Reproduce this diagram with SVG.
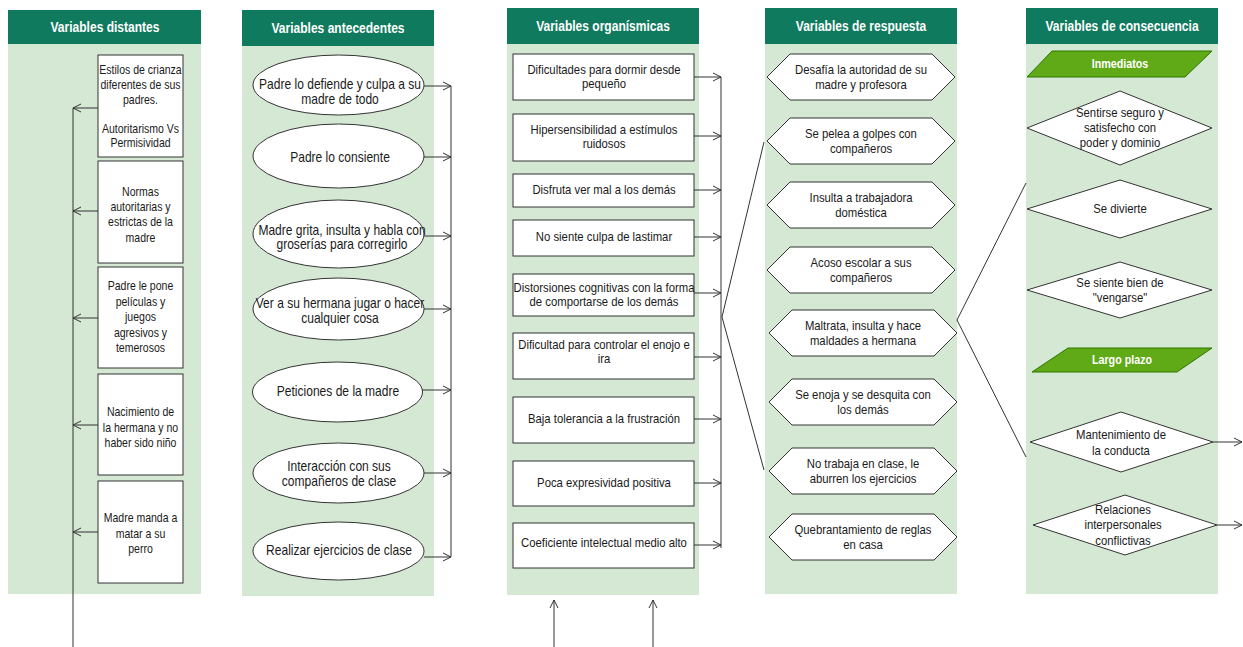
<svg xmlns="http://www.w3.org/2000/svg" width="1243" height="647" viewBox="0 0 1243 647">
  <defs>
    <marker id="open" viewBox="0 0 10 10" refX="9" refY="5" markerWidth="10" markerHeight="10" markerUnits="userSpaceOnUse" orient="auto">
      <path d="M1,1 L9,5 L1,9" fill="none" stroke="#333" stroke-width="1"/>
    </marker>
    <style>
      text { font-family: "Liberation Sans", Arial, sans-serif; fill: #1a1a1a; text-anchor: middle; }
      .lane { fill: #d5e8d4; stroke: none; }
      .head { fill: #0f7a5d; stroke: none; }
      .htxt { font-size: 14px; font-weight: bold; fill: #ffffff; }
      .node { fill: #ffffff; stroke: #333333; stroke-width: 1; }
      .tag { fill: #60a917; stroke: #2d7600; stroke-width: 1; }
      .tagtxt { font-size: 12.5px; font-weight: bold; fill: #ffffff; }
      .f13 { font-size: 13px; }
      .f14 { font-size: 14px; }
      .wire { fill: none; stroke: #333333; stroke-width: 1; }
      .arr { fill: none; stroke: #333333; stroke-width: 1; marker-end: url(#open); }
    </style>
  </defs>

  <rect width="1243" height="647" fill="#ffffff"/>

  <!-- swimlanes -->
  <g id="lane-distantes">
    <rect class="lane" x="8" y="10" width="193" height="584"/>
    <rect class="head" x="8" y="10" width="193" height="34"/>
    <text class="htxt" transform="translate(105,0) scale(0.86,1)"><tspan x="0" y="32">Variables distantes</tspan></text>
  </g>
  <g id="lane-antecedentes">
    <rect class="lane" x="242" y="10" width="192" height="586"/>
    <rect class="head" x="242" y="10" width="192" height="36"/>
    <text class="htxt" transform="translate(338,0) scale(0.86,1)"><tspan x="0" y="33">Variables antecedentes</tspan></text>
  </g>
  <g id="lane-organismicas">
    <rect class="lane" x="507" y="8" width="192" height="587"/>
    <rect class="head" x="507" y="8" width="192" height="36"/>
    <text class="htxt" transform="translate(603,0) scale(0.86,1)"><tspan x="0" y="31">Variables organísmicas</tspan></text>
  </g>
  <g id="lane-respuesta">
    <rect class="lane" x="765" y="8" width="192" height="586"/>
    <rect class="head" x="765" y="8" width="192" height="36"/>
    <text class="htxt" transform="translate(861,0) scale(0.86,1)"><tspan x="0" y="31">Variables de respuesta</tspan></text>
  </g>
  <g id="lane-consecuencia">
    <rect class="lane" x="1026" y="8" width="192" height="586"/>
    <rect class="head" x="1026" y="8" width="192" height="36"/>
    <text class="htxt" transform="translate(1122,0) scale(0.86,1)"><tspan x="0" y="31">Variables de consecuencia</tspan></text>
  </g>

  <!-- distant variables -->
  <g id="d1">
    <rect class="node" x="98" y="55" width="85" height="102"/>
    <text class="f13" transform="translate(140.5,0) scale(0.81,1)"><tspan x="0" y="74.5">Estilos de crianza</tspan><tspan x="0" y="89">diferentes de sus</tspan><tspan x="0" y="104">padres.</tspan><tspan x="0" y="133">Autoritarismo Vs</tspan><tspan x="0" y="147.5">Permisividad</tspan></text>
  </g>
  <g id="d2">
    <rect class="node" x="98" y="161" width="85" height="102"/>
    <text class="f13" transform="translate(140.5,0) scale(0.81,1)"><tspan x="0" y="196">Normas</tspan><tspan x="0" y="211">autoritarias y</tspan><tspan x="0" y="226.5">estrictas de la</tspan><tspan x="0" y="242">madre</tspan></text>
  </g>
  <g id="d3">
    <rect class="node" x="98" y="267" width="85" height="101"/>
    <text class="f13" transform="translate(140.5,0) scale(0.81,1)"><tspan x="0" y="290.5">Padre le pone</tspan><tspan x="0" y="306">películas y</tspan><tspan x="0" y="321.5">juegos</tspan><tspan x="0" y="337">agresivos y</tspan><tspan x="0" y="352.5">temerosos</tspan></text>
  </g>
  <g id="d4">
    <rect class="node" x="98" y="374" width="85" height="101"/>
    <text class="f13" transform="translate(140.5,0) scale(0.81,1)"><tspan x="0" y="416.5">Nacimiento de</tspan><tspan x="0" y="432">la hermana y no</tspan><tspan x="0" y="447.5">haber sido niño</tspan></text>
  </g>
  <g id="d5">
    <rect class="node" x="98" y="481" width="85" height="102"/>
    <text class="f13" transform="translate(140.5,0) scale(0.81,1)"><tspan x="0" y="522.5">Madre manda a</tspan><tspan x="0" y="538">matar a su</tspan><tspan x="0" y="553.5">perro</tspan></text>
  </g>

  <!-- antecedent variables -->
  <g id="a1">
    <ellipse class="node" cx="338.5" cy="85" rx="85.5" ry="30"/>
    <text class="f14" transform="translate(340,0) scale(0.86,1)"><tspan x="0" y="89">Padre lo defiende y culpa a su</tspan><tspan x="0" y="104">madre de todo</tspan></text>
  </g>
  <g id="a2">
    <ellipse class="node" cx="338.5" cy="156" rx="85.5" ry="32"/>
    <text class="f14" transform="translate(340,0) scale(0.86,1)"><tspan x="0" y="162">Padre lo consiente</tspan></text>
  </g>
  <g id="a3">
    <ellipse class="node" cx="338.5" cy="234" rx="85.5" ry="34"/>
    <text class="f14" transform="translate(342,0) scale(0.86,1)"><tspan x="0" y="235">Madre grita, insulta y habla con</tspan><tspan x="0" y="249">groserías para corregirlo</tspan></text>
  </g>
  <g id="a4">
    <ellipse class="node" cx="338.5" cy="309" rx="85.5" ry="31"/>
    <text class="f14" transform="translate(340,0) scale(0.86,1)"><tspan x="0" y="308">Ver a su hermana jugar o hacer</tspan><tspan x="0" y="323">cualquier cosa</tspan></text>
  </g>
  <g id="a5">
    <ellipse class="node" cx="337.5" cy="392" rx="85" ry="30"/>
    <text class="f14" transform="translate(338,0) scale(0.86,1)"><tspan x="0" y="396">Peticiones de la madre</tspan></text>
  </g>
  <g id="a6">
    <ellipse class="node" cx="338.5" cy="473" rx="85.5" ry="30"/>
    <text class="f14" transform="translate(339,0) scale(0.86,1)"><tspan x="0" y="471">Interacción con sus</tspan><tspan x="0" y="486">compañeros de clase</tspan></text>
  </g>
  <g id="a7">
    <ellipse class="node" cx="338.5" cy="551" rx="85.5" ry="29"/>
    <text class="f14" transform="translate(339,0) scale(0.86,1)"><tspan x="0" y="555">Realizar ejercicios de clase</tspan></text>
  </g>

  <!-- organismic variables -->
  <g id="o1">
    <rect class="node" x="513" y="54" width="181" height="46"/>
    <text class="f13" transform="translate(604,0) scale(0.87,1)"><tspan x="0" y="74.5">Dificultades para dormir desde</tspan><tspan x="0" y="88.5">pequeño</tspan></text>
  </g>
  <g id="o2">
    <rect class="node" x="513" y="114" width="181" height="47"/>
    <text class="f13" transform="translate(604,0) scale(0.87,1)"><tspan x="0" y="134.5">Hipersensibilidad a estímulos</tspan><tspan x="0" y="148.5">ruidosos</tspan></text>
  </g>
  <g id="o3">
    <rect class="node" x="513" y="174" width="181" height="33"/>
    <text class="f13" transform="translate(604,0) scale(0.87,1)"><tspan x="0" y="194.5">Disfruta ver mal a los demás</tspan></text>
  </g>
  <g id="o4">
    <rect class="node" x="513" y="220" width="181" height="36"/>
    <text class="f13" transform="translate(604,0) scale(0.87,1)"><tspan x="0" y="241.5">No siente culpa de lastimar</tspan></text>
  </g>
  <g id="o5">
    <rect class="node" x="513" y="274" width="181" height="42"/>
    <text class="f13" transform="translate(604,0) scale(0.87,1)"><tspan x="0" y="292.5">Distorsiones cognitivas con la forma</tspan><tspan x="0" y="306.5">de comportarse de los demás</tspan></text>
  </g>
  <g id="o6">
    <rect class="node" x="513" y="333" width="181" height="46"/>
    <text class="f13" transform="translate(604,0) scale(0.87,1)"><tspan x="0" y="349.5">Dificultad para controlar el enojo e</tspan><tspan x="0" y="363.5">ira</tspan></text>
  </g>
  <g id="o7">
    <rect class="node" x="513" y="397" width="181" height="46"/>
    <text class="f13" transform="translate(604,0) scale(0.87,1)"><tspan x="0" y="423.5">Baja tolerancia a la frustración</tspan></text>
  </g>
  <g id="o8">
    <rect class="node" x="513" y="461" width="181" height="45"/>
    <text class="f13" transform="translate(604,0) scale(0.87,1)"><tspan x="0" y="487.5">Poca expresividad positiva</tspan></text>
  </g>
  <g id="o9">
    <rect class="node" x="513" y="523" width="181" height="45"/>
    <text class="f13" transform="translate(604,0) scale(0.87,1)"><tspan x="0" y="547.5">Coeficiente intelectual medio alto</tspan></text>
  </g>

  <!-- response variables -->
  <g id="r1">
    <polygon class="node" points="767,77 790,54 932,54 955,77 932,100 790,100"/>
    <text class="f13" transform="translate(861,0) scale(0.87,1)"><tspan x="0" y="74">Desafía la autoridad de su</tspan><tspan x="0" y="89">madre y profesora</tspan></text>
  </g>
  <g id="r2">
    <polygon class="node" points="767,141 790,118 932,118 955,141 932,164 790,164"/>
    <text class="f13" transform="translate(861,0) scale(0.87,1)"><tspan x="0" y="138">Se pelea a golpes con</tspan><tspan x="0" y="153">compañeros</tspan></text>
  </g>
  <g id="r3">
    <polygon class="node" points="767,205 790,182 932,182 955,205 932,228 790,228"/>
    <text class="f13" transform="translate(861,0) scale(0.87,1)"><tspan x="0" y="202">Insulta a trabajadora</tspan><tspan x="0" y="217">doméstica</tspan></text>
  </g>
  <g id="r4">
    <polygon class="node" points="767,270 790,247 932,247 955,270 932,293 790,293"/>
    <text class="f13" transform="translate(861,0) scale(0.87,1)"><tspan x="0" y="267">Acoso escolar a sus</tspan><tspan x="0" y="282">compañeros</tspan></text>
  </g>
  <g id="r5">
    <polygon class="node" points="769,333 792,310 934,310 957,333 934,356 792,356"/>
    <text class="f13" transform="translate(863,0) scale(0.87,1)"><tspan x="0" y="330">Maltrata, insulta y hace</tspan><tspan x="0" y="345">maldades a hermana</tspan></text>
  </g>
  <g id="r6">
    <polygon class="node" points="769,402 792,379 934,379 957,402 934,425 792,425"/>
    <text class="f13" transform="translate(863,0) scale(0.87,1)"><tspan x="0" y="399">Se enoja y se desquita con</tspan><tspan x="0" y="414">los demás</tspan></text>
  </g>
  <g id="r7">
    <polygon class="node" points="769,471 792,448 934,448 957,471 934,494 792,494"/>
    <text class="f13" transform="translate(863,0) scale(0.87,1)"><tspan x="0" y="468">No trabaja en clase, le</tspan><tspan x="0" y="483">aburren los ejercicios</tspan></text>
  </g>
  <g id="r8">
    <polygon class="node" points="769,537 792,514 934,514 957,537 934,560 792,560"/>
    <text class="f13" transform="translate(863,0) scale(0.87,1)"><tspan x="0" y="534">Quebrantamiento de reglas</tspan><tspan x="0" y="549">en casa</tspan></text>
  </g>

  <!-- consequence variables -->
  <g id="c-inmediatos">
    <polygon class="tag" points="1052,51 1212,51 1185,77 1027,77"/>
    <text class="tagtxt" transform="translate(1120,0) scale(0.86,1)"><tspan x="0" y="68.5">Inmediatos</tspan></text>
  </g>
  <g id="c1">
    <polygon class="node" points="1027,128 1120,91 1212,128 1120,165"/>
    <text class="f13" transform="translate(1120,0) scale(0.87,1)"><tspan x="0" y="117.5">Sentirse seguro y</tspan><tspan x="0" y="132.5">satisfecho con</tspan><tspan x="0" y="147.5">poder y dominio</tspan></text>
  </g>
  <g id="c2">
    <polygon class="node" points="1027,209 1120,180 1212,209 1120,238"/>
    <text class="f13" transform="translate(1120,0) scale(0.87,1)"><tspan x="0" y="213.5">Se divierte</tspan></text>
  </g>
  <g id="c3">
    <polygon class="node" points="1027,290 1120,262 1212,290 1120,318"/>
    <text class="f13" transform="translate(1120,0) scale(0.87,1)"><tspan x="0" y="287.5">Se siente bien de</tspan><tspan x="0" y="302.5">"vengarse"</tspan></text>
  </g>
  <g id="c-largo">
    <polygon class="tag" points="1068,348 1212,348 1177,372 1032,372"/>
    <text class="tagtxt" transform="translate(1122,0) scale(0.86,1)"><tspan x="0" y="364.5">Largo plazo</tspan></text>
  </g>
  <g id="c4">
    <polygon class="node" points="1030,442 1121,412 1213,442 1121,472"/>
    <text class="f13" transform="translate(1121,0) scale(0.87,1)"><tspan x="0" y="439.5">Mantenimiento de</tspan><tspan x="0" y="455.5">la conducta</tspan></text>
  </g>
  <g id="c5">
    <polygon class="node" points="1033,525 1125,495 1217,525 1125,555"/>
    <text class="f13" transform="translate(1123,0) scale(0.87,1)"><tspan x="0" y="514.5">Relaciones</tspan><tspan x="0" y="529.5">interpersonales</tspan><tspan x="0" y="545">conflictivas</tspan></text>
  </g>

  <!-- connectors -->
  <g id="connectors">
    <!-- distant variables feed a common trunk -->
    <line class="wire" x1="73" y1="108" x2="73" y2="647" stroke="#555"/>
    <line class="arr" x1="98" y1="108" x2="73" y2="108"/>
    <line class="arr" x1="98" y1="211" x2="73" y2="211"/>
    <line class="arr" x1="98" y1="318" x2="73" y2="318"/>
    <line class="arr" x1="98" y1="425" x2="73" y2="425"/>
    <line class="arr" x1="98" y1="532" x2="73" y2="532"/>

    <!-- antecedents bus -->
    <line class="wire" x1="451" y1="86" x2="451" y2="557"/>
    <line class="arr" x1="424" y1="86" x2="451" y2="86"/>
    <line class="arr" x1="424" y1="157" x2="451" y2="157"/>
    <line class="arr" x1="424" y1="236" x2="451" y2="236"/>
    <line class="arr" x1="424" y1="309" x2="451" y2="309"/>
    <line class="arr" x1="422" y1="390" x2="451" y2="390"/>
    <line class="arr" x1="424" y1="473" x2="451" y2="473"/>
    <line class="arr" x1="424" y1="557" x2="451" y2="557"/>

    <!-- organismic bus -->
    <line class="wire" x1="721" y1="77" x2="721" y2="548"/>
    <line class="arr" x1="694" y1="77" x2="721" y2="77"/>
    <line class="arr" x1="694" y1="136" x2="721" y2="136"/>
    <line class="arr" x1="694" y1="190" x2="721" y2="190"/>
    <line class="arr" x1="694" y1="237" x2="721" y2="237"/>
    <line class="arr" x1="694" y1="293" x2="721" y2="293"/>
    <line class="arr" x1="694" y1="357" x2="721" y2="357"/>
    <line class="arr" x1="694" y1="419" x2="721" y2="419"/>
    <line class="arr" x1="694" y1="483" x2="721" y2="483"/>
    <line class="arr" x1="694" y1="545" x2="721" y2="545"/>

    <!-- brackets between lanes -->
    <polyline class="wire" points="764,142 722,317 764,470"/>
    <polyline class="wire" points="1026,183 957,320 1026,457"/>

    <!-- long-term outputs -->
    <line class="arr" x1="1213" y1="442" x2="1242" y2="442"/>
    <line class="arr" x1="1217" y1="525" x2="1242" y2="525"/>

    <!-- inputs from below -->
    <line class="arr" x1="554" y1="647" x2="554" y2="600"/>
    <line class="arr" x1="653" y1="647" x2="653" y2="600"/>
  </g>
</svg>
